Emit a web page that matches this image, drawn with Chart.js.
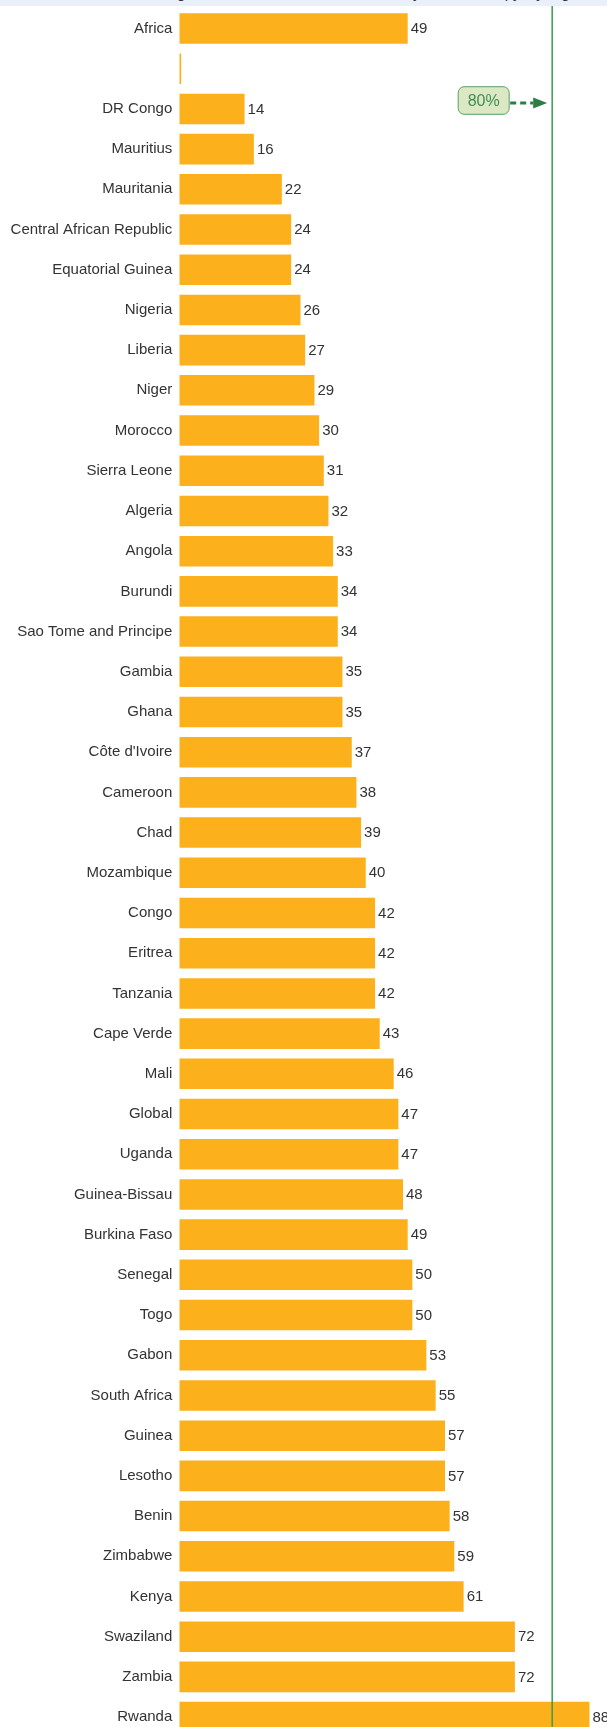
<!DOCTYPE html>
<html lang="en">
<head>
  <meta charset="UTF-8">
  <title>Coverage by country</title>
  <script src="https://cdn.jsdelivr.net/npm/chart.js"></script>
  <style>
    html, body { margin: 0; padding: 0; width: 607px; height: 1727px; overflow: hidden; background: #fff; }
    #band { position: absolute; left: 0; top: 0; width: 607px; height: 6px; background: #e9f0f9; overflow: hidden; z-index: 2; }
    #band span { position: absolute; left: 117px; top: -15.5px; font: 15px/16px "Liberation Sans", Arial, sans-serif; color: #333; white-space: nowrap; }
    #wrap { position: absolute; left: 0; top: 0; }
  </style>
</head>
<body>
  <div id="band"><span>Percentage of children under five on oral rehydration therapy, by region and country, 2012</span></div>
  <div id="wrap"><canvas id="chart" width="607" height="1746"></canvas></div>

  <script>
    // rows top to bottom
    const countries = ['Africa', '', 'DR Congo', 'Mauritius', 'Mauritania', 'Central African Republic',
      'Equatorial Guinea', 'Nigeria', 'Liberia', 'Niger', 'Morocco', 'Sierra Leone', 'Algeria', 'Angola',
      'Burundi', 'Sao Tome and Principe', 'Gambia', 'Ghana', "Côte d'Ivoire", 'Cameroon', 'Chad',
      'Mozambique', 'Congo', 'Eritrea', 'Tanzania', 'Cape Verde', 'Mali', 'Global', 'Uganda',
      'Guinea-Bissau', 'Burkina Faso', 'Senegal', 'Togo', 'Gabon', 'South Africa', 'Guinea', 'Lesotho',
      'Benin', 'Zimbabwe', 'Kenya', 'Swaziland', 'Zambia', 'Rwanda'];
    const values = [49, 0.4, 14, 16, 22, 24, 24, 26, 27, 29, 30, 31, 32, 33, 34, 34, 35, 35, 37, 38, 39,
      40, 42, 42, 42, 43, 46, 47, 47, 48, 49, 50, 50, 53, 55, 57, 57, 58, 59, 61, 72, 72, 88];
    const valueLabels = ['49', '', '14', '16', '22', '24', '24', '26', '27', '29', '30', '31', '32', '33',
      '34', '34', '35', '35', '37', '38', '39', '40', '42', '42', '42', '43', '46', '47', '47', '48', '49',
      '50', '50', '53', '55', '57', '57', '58', '59', '61', '72', '72', '88'];
    const target = 80;
    const targetText = '80%';

    const FONT = '"Liberation Sans", Arial, sans-serif';

    // value text at the end of each bar
    const barLabels = {
      id: 'barLabels',
      afterDatasetsDraw(chart) {
        const ctx = chart.ctx;
        ctx.save();
        ctx.font = '15px ' + FONT;
        ctx.fillStyle = '#333';
        ctx.textBaseline = 'middle';
        chart.getDatasetMeta(0).data.forEach((bar, i) => {
          if (!valueLabels[i]) return;
          ctx.fillText(valueLabels[i], bar.x + 3, bar.y + 0.5);
        });
        ctx.restore();
      }
    };

    // 80% target line with callout
    const targetLine = {
      id: 'targetLine',
      afterDraw(chart) {
        const ctx = chart.ctx;
        const x = chart.scales.x.getPixelForValue(target);
        const rowY = chart.scales.y.getPixelForValue(2);
        ctx.save();
        ctx.strokeStyle = '#3d9b52';
        ctx.lineWidth = 1.5;
        ctx.beginPath();
        ctx.moveTo(x, 6);
        ctx.lineTo(x, chart.height);
        ctx.stroke();

        // box
        const bw = 51, bh = 27.6;
        const bx = x - 43 - bw, by = rowY - 22.2;
        ctx.fillStyle = '#dbe8c3';
        ctx.strokeStyle = '#55a066';
        ctx.lineWidth = 1;
        ctx.beginPath();
        ctx.roundRect(bx, by, bw, bh, 6);
        ctx.fill();
        ctx.stroke();
        ctx.fillStyle = '#3f8f52';
        ctx.font = '16px ' + FONT;
        ctx.textAlign = 'center';
        ctx.textBaseline = 'middle';
        ctx.fillText(targetText, bx + bw / 2, by + bh / 2 + 1);

        // dashed arrow
        const ay = by + bh / 2 + 2.5;
        ctx.strokeStyle = '#2e7d46';
        ctx.lineWidth = 3;
        ctx.setLineDash([6, 4]);
        ctx.beginPath();
        ctx.moveTo(bx + bw + 1, ay);
        ctx.lineTo(x - 19, ay);
        ctx.stroke();
        ctx.setLineDash([]);
        ctx.fillStyle = '#2e7d46';
        ctx.beginPath();
        ctx.moveTo(x - 19, ay - 5.6);
        ctx.lineTo(x - 5, ay);
        ctx.lineTo(x - 19, ay + 5.6);
        ctx.closePath();
        ctx.fill();
        ctx.restore();
      }
    };

    new Chart(document.getElementById('chart'), {
      type: 'bar',
      data: {
        labels: countries,
        datasets: [{
          data: values,
          backgroundColor: '#fbb01c',
          borderWidth: 0,
          barPercentage: 0.76,
          categoryPercentage: 1
        }]
      },
      options: {
        indexAxis: 'y',
        responsive: false,
        animation: false,
        devicePixelRatio: 1,
        layout: { padding: { top: 8.4, bottom: 8.8, left: 0, right: 0 } },
        plugins: {
          legend: { display: false },
          tooltip: { enabled: false },
          title: { display: false }
        },
        scales: {
          x: {
            display: false,
            min: 0,
            max: 91.76
          },
          y: {
            grid: { display: false, drawTicks: false },
            border: { display: false },
            ticks: {
              padding: 7,
              color: '#333',
              font: { family: FONT, size: 15 },
              autoSkip: false
            },
            afterFit(scale) {
              scale.width = 179.3;
              scale.paddingTop = 0;
              scale.paddingBottom = 0;
            }
          }
        }
      },
      plugins: [barLabels, targetLine]
    });
  </script>
</body>
</html>
